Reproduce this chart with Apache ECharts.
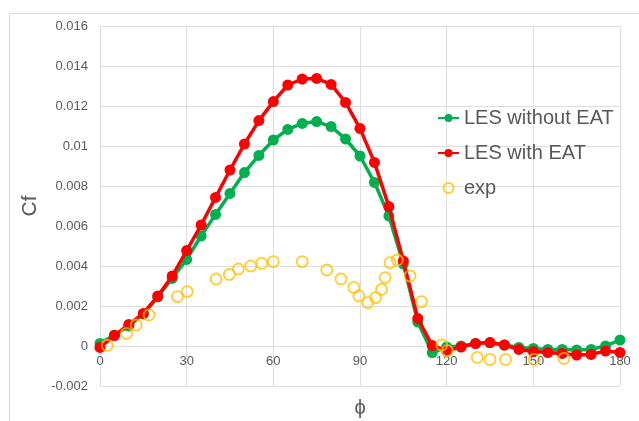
<!DOCTYPE html>
<html>
<head>
<meta charset="utf-8">
<script src="https://cdn.jsdelivr.net/npm/echarts@6/dist/echarts.min.js"></script>
<style>
  html, body { margin: 0; padding: 0; background: #ffffff; }
  #chart { width: 639px; height: 421px; }
</style>
</head>
<body>
<div id="chart"></div>
<script>
// Circumferential angle (degrees) for the LES profiles
const phi = [0, 5, 10, 15, 20, 25, 30, 35, 40, 45, 50, 55, 60, 65, 70, 75, 80, 85, 90,
             95, 100, 105, 110, 115, 120, 125, 130, 135, 140, 145, 150, 155, 160, 165, 170, 175, 180];

// Skin-friction coefficient, LES without EAT
const cfWithoutEAT = [0.00013, 0.00055, 0.0010, 0.0016, 0.00245, 0.00338, 0.00433, 0.0055, 0.00658, 0.00763,
                      0.00867, 0.00953, 0.0103, 0.01083, 0.01113, 0.01122, 0.01097, 0.01035, 0.0095,
                      0.00818, 0.0065, 0.0041, 0.0012, -0.00033, -0.00005, 0.0, 0.00013, 0.00017, 0.00005,
                      -0.00007, -0.00012, -0.00017, -0.00017, -0.0002, -0.00017, 0.0, 0.0003];

// Skin-friction coefficient, LES with EAT
const cfWithEAT = [-0.00007, 0.00052, 0.00108, 0.00163, 0.0025, 0.0035, 0.00477, 0.00605, 0.00743, 0.0088,
                   0.0101, 0.01127, 0.01222, 0.01305, 0.01335, 0.01338, 0.01308, 0.01218, 0.01088,
                   0.00918, 0.00697, 0.00425, 0.00138, 0.00002, -0.00023, -0.00005, 0.00012, 0.00017, 0.00005,
                   -0.00017, -0.00028, -0.00033, -0.00037, -0.00045, -0.00042, -0.00025, -0.00032];

// Experimental measurements
const expPhi = [2.5, 9.2, 12.5, 17, 26.8, 30.2, 40.2, 44.8, 47.9, 52.2, 56, 60, 70, 78.5, 83.4, 87.9,
                89.6, 92.7, 95.4, 97.5, 98.7, 100.4, 102.9, 107.3, 111.3, 118.3, 120.2, 130.6, 135,
                140.4, 150.3, 160.6];
const expCf = [0.00003, 0.00063, 0.00105, 0.00155, 0.00247, 0.00272, 0.00335, 0.00358, 0.00385, 0.004,
               0.00413, 0.00422, 0.00422, 0.0038, 0.00335, 0.00293, 0.0025, 0.00217, 0.00242, 0.00283,
               0.00342, 0.00417, 0.0043, 0.0035, 0.00222, 0.00005, -0.00023, -0.00057, -0.00067,
               -0.00067, -0.00067, -0.00062];

const zip = (xs, ys) => xs.map((x, i) => [x, ys[i]]);

const textColor = '#595959';
const gridColor = '#dedede';
const font = 'Liberation Sans, Arial, sans-serif';

const chart = echarts.init(document.getElementById('chart'), null, { renderer: 'canvas' });

chart.setOption({
  animation: false,
  backgroundColor: '#ffffff',
  grid: { left: 100, right: 19, top: 26, bottom: 35, outerBoundsMode: 'none', containLabel: false },
  graphic: [
    { type: 'line', shape: { x1: 9.5, y1: 13.5, x2: 639, y2: 13.5 }, style: { stroke: '#d9d9d9', lineWidth: 1 } },
    { type: 'line', shape: { x1: 9.5, y1: 13.5, x2: 9.5, y2: 421 }, style: { stroke: '#d9d9d9', lineWidth: 1 } }
  ],
  xAxis: {
    type: 'value',
    min: 0, max: 180, interval: 30,
    // labels sit just under the Cf = 0 line (40 px above the plot bottom)
    offset: -40,
    name: 'ϕ',
    nameLocation: 'middle',
    nameGap: 52,
    nameTextStyle: { color: textColor, fontSize: 20, fontFamily: font },
    axisLine: { show: false, onZero: false },
    axisTick: { show: false },
    axisLabel: { color: textColor, fontSize: 13, fontFamily: font, margin: 9 },
    splitLine: { show: true, lineStyle: { color: gridColor } }
  },
  yAxis: {
    type: 'value',
    min: -0.002, max: 0.016, interval: 0.002,
    name: 'Cf',
    nameLocation: 'middle',
    nameGap: 52,
    nameRotate: 90,
    nameTextStyle: { color: textColor, fontSize: 21, fontFamily: font },
    axisLine: { show: false, onZero: false },
    axisTick: { show: false },
    axisLabel: { color: textColor, fontSize: 13, fontFamily: font, margin: 12 },
    splitLine: { show: true, lineStyle: { color: gridColor } }
  },
  legend: {
    orient: 'vertical',
    left: 432,
    top: 103,
    itemWidth: 21,
    itemHeight: 10,
    itemGap: 15,
    textStyle: { color: textColor, fontSize: 20, fontFamily: font },
    data: ['LES without EAT', 'LES with EAT', 'exp']
  },
  series: [
    {
      name: 'LES without EAT',
      type: 'line',
      data: zip(phi, cfWithoutEAT),
      symbol: 'circle',
      symbolSize: 11,
      showAllSymbol: true,
      lineStyle: { color: '#00b050', width: 3.5 },
      itemStyle: { color: '#00b050' },
      z: 2
    },
    {
      name: 'LES with EAT',
      type: 'line',
      data: zip(phi, cfWithEAT),
      symbol: 'circle',
      symbolSize: 11,
      showAllSymbol: true,
      lineStyle: { color: '#ff0000', width: 3.5 },
      itemStyle: { color: '#ff0000' },
      z: 3
    },
    {
      name: 'exp',
      type: 'scatter',
      data: zip(expPhi, expCf),
      symbol: 'circle',
      symbolSize: 11,
      itemStyle: { color: 'rgba(255,255,255,0)', borderColor: '#ffc000', borderWidth: 1.8 },
      z: 4
    }
  ]
});
</script>
</body>
</html>
